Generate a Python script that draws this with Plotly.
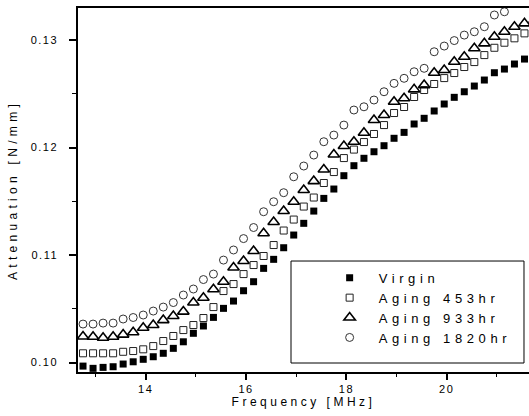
import plotly.graph_objects as go

freq = [12.75, 12.95, 13.15, 13.35, 13.55, 13.75, 13.95, 14.15, 14.35, 14.55,
        14.75, 14.95, 15.15, 15.35, 15.55, 15.75, 15.95, 16.15, 16.35, 16.55,
        16.75, 16.95, 17.15, 17.35, 17.55, 17.75, 17.95, 18.15, 18.35, 18.55,
        18.75, 18.95, 19.15, 19.35, 19.55, 19.75, 19.95, 20.15, 20.35, 20.55,
        20.75, 20.95, 21.15, 21.35, 21.55, 21.75]

virgin = [0.09967, 0.09946, 0.09955, 0.09961, 0.09986, 0.10007, 0.10030, 0.10054, 0.10086, 0.10132,
          0.10193, 0.10272, 0.10340, 0.10420, 0.10504, 0.10572, 0.10668, 0.10752, 0.10876, 0.10960,
          0.11068, 0.11186, 0.11295, 0.11409, 0.11527, 0.11614, 0.11738, 0.11831, 0.11900, 0.11961,
          0.12017, 0.12086, 0.12141, 0.12219, 0.12272, 0.12340, 0.12405, 0.12467, 0.12519, 0.12572,
          0.12628, 0.12696, 0.12730, 0.12777, 0.12823, 0.12879]

aging453 = [0.10086, 0.10086, 0.10086, 0.10086, 0.10100, 0.10107, 0.10123, 0.10153, 0.10200, 0.10247,
            0.10302, 0.10349, 0.10414, 0.10516, 0.10665, 0.10730, 0.10823, 0.10907, 0.10991, 0.11093,
            0.11228, 0.11330, 0.11451, 0.11535, 0.11670, 0.11772, 0.11902, 0.11981, 0.12051, 0.12126,
            0.12209, 0.12321, 0.12377, 0.12470, 0.12535, 0.12591, 0.12646, 0.12693, 0.12749, 0.12795,
            0.12860, 0.12928, 0.12975, 0.13016, 0.13062, 0.13102]

aging933 = [0.10242, 0.10240, 0.10230, 0.10240, 0.10260, 0.10282, 0.10323, 0.10349, 0.10395, 0.10433,
            0.10474, 0.10558, 0.10602, 0.10682, 0.10752, 0.10884, 0.10944, 0.11037, 0.11202, 0.11307,
            0.11409, 0.11496, 0.11605, 0.11688, 0.11795, 0.11935, 0.12014, 0.12054, 0.12138, 0.12256,
            0.12302, 0.12426, 0.12458, 0.12541, 0.12581, 0.12696, 0.12721, 0.12798, 0.12845, 0.12923,
            0.12969, 0.13031, 0.13077, 0.13124, 0.13155, 0.13186]

aging1820 = [0.10358, 0.10358, 0.10367, 0.10367, 0.10405, 0.10419, 0.10442, 0.10479, 0.10516, 0.10558,
             0.10628, 0.10684, 0.10772, 0.10823, 0.10953, 0.11047, 0.11153, 0.11256, 0.11403, 0.11496,
             0.11580, 0.11728, 0.11828, 0.11930, 0.12054, 0.12116, 0.12209, 0.12349, 0.12379, 0.12442,
             0.12519, 0.12597, 0.12644, 0.12705, 0.12737, 0.12891, 0.12944, 0.12995, 0.13046, 0.13077,
             0.13124, 0.13233, 0.13263]

names = ["Virgin", "Aging 453hr", "Aging 933hr", "Aging 1820hr"]
series = [virgin, aging453, aging933, aging1820]

FONT = "Liberation Sans, Arial, Helvetica, sans-serif"
styles = [
    dict(symbol="square", size=7, color="black", line=dict(width=0)),
    dict(symbol="square-open", size=7, color="#222", line=dict(width=1, color="#222")),
    dict(symbol="triangle-up-open", size=10, color="black", line=dict(width=1.6, color="black")),
    dict(symbol="circle-open", size=8, color="#333", line=dict(width=1, color="#333")),
]

fig = go.Figure()
for nm, ys, st in zip(names, series, styles):
    fig.add_trace(go.Scatter(x=freq[:len(ys)], y=ys, mode="markers", name=nm, marker=st))

fig.update_layout(
    template="none",
    width=529, height=416,
    margin=dict(l=78, r=0, t=8, b=44, pad=0),
    paper_bgcolor="white", plot_bgcolor="white",
    font=dict(family=FONT, color="black"),
    showlegend=True,
    legend=dict(
        x=0.538, y=0.30, xanchor="left", yanchor="top",
        bgcolor="rgba(0,0,0,0)", borderwidth=0,
        font=dict(family=FONT, size=13, color="black"),
        itemwidth=48, tracegroupgap=0,
    ),
    xaxis=dict(
        range=[12.65, 21.64], dtick=2, tick0=0, ticklen=6,
        minor=dict(dtick=1, tick0=0, ticks="outside", ticklen=3, tickcolor="black", tickwidth=1.2),
        title=dict(text="Frequency [MHz]", font=dict(family=FONT, size=12, color="black"), standoff=2),
        showline=True, linecolor="black", linewidth=1.5, mirror=True,
        ticks="outside", tickcolor="black", tickwidth=1.5,
        showgrid=False, zeroline=False, automargin=False,
        tickfont=dict(family=FONT, size=11, color="black"),
    ),
    yaxis=dict(
        range=[0.09912, 0.13298], dtick=0.01, tick0=0, tickformat=".2f", ticklen=7,
        ticklabelstandoff=9,
        minor=dict(dtick=0.005, tick0=0, ticks="outside", ticklen=4, tickcolor="black", tickwidth=1.2),
        title=dict(text="Attenuation [N/mm]", font=dict(family=FONT, size=12, color="black"), standoff=16),
        showline=True, linecolor="black", linewidth=1.5, mirror=False,
        ticks="outside", tickcolor="black", tickwidth=1.5,
        showgrid=False, zeroline=False, automargin=False,
        tickfont=dict(family=FONT, size=11, color="black"),
    ),
    shapes=[dict(type="rect", xref="paper", yref="paper",
                 x0=0.4723, x1=0.9889, y0=0.0247, y1=0.3049,
                 line=dict(color="black", width=1), fillcolor="rgba(0,0,0,0)")],
)

post = """
document.body.style.margin = '0';
document.documentElement.style.overflow = 'hidden';
var gd = document.getElementById('{plot_id}');
function setls(sel, v){
  gd.querySelectorAll(sel).forEach(function(t){
    t.style.setProperty('letter-spacing', v + 'px', 'important');
    t.setAttribute('letter-spacing', v + 'px');
  });
}
function sp(){
  gd.querySelectorAll('.legend [clip-path]').forEach(function(e){e.removeAttribute('clip-path');});
  setls('.legend text', 4.6);
  setls('.g-xtitle text', 3.5);
  setls('.g-ytitle text', 4.3);
  setls('.xtick text', 1.5);
  setls('.ytick text', 1.5);
}
sp();
setTimeout(sp, 30);
setTimeout(sp, 200);
if (gd.on) { gd.on('plotly_afterplot', sp); }
"""

fig.write_html("out.html", post_script=post, config={"displayModeBar": False})
